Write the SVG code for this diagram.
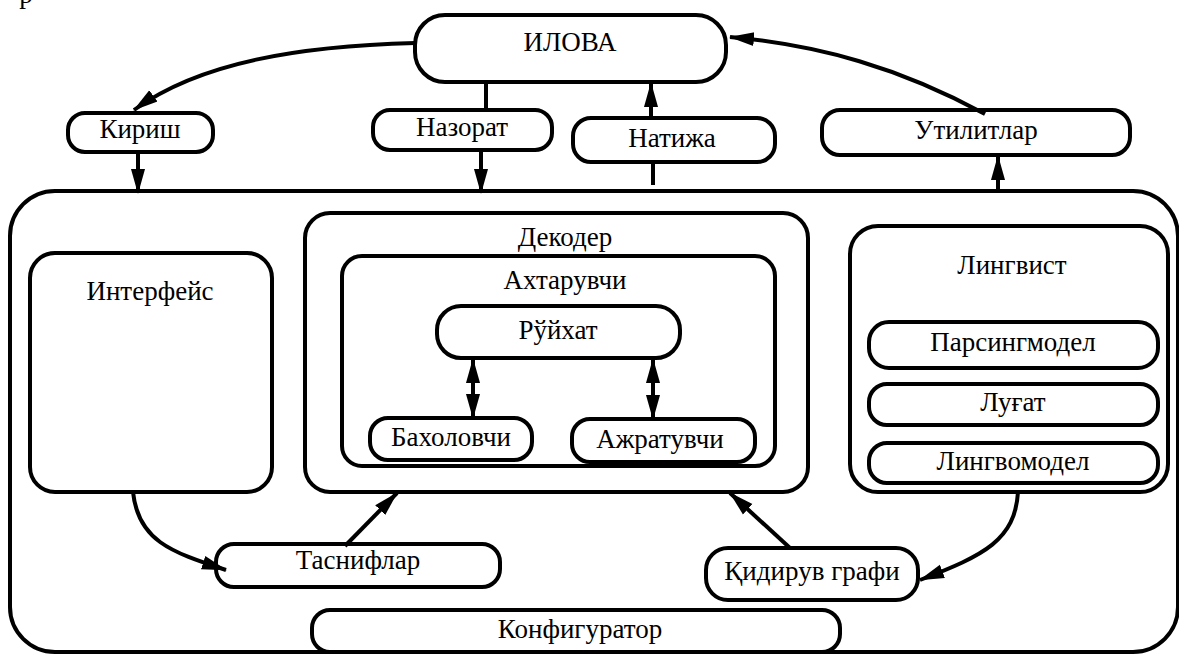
<svg xmlns="http://www.w3.org/2000/svg" width="1179" height="654" viewBox="0 0 1179 654">
  <style>
    .box { fill: none; stroke: #000; stroke-width: 4; }
    .lbl { font-family: "Liberation Serif", "DejaVu Serif", serif; font-size: 27px; text-anchor: middle; fill: #000; }
    .wire { fill: none; stroke: #000; stroke-width: 4; }
    .arr { marker-end: url(#head); }
    .both { marker-start: url(#head); marker-end: url(#head); }
  </style>
  <defs>
    <marker id="head" markerUnits="userSpaceOnUse" markerWidth="26" markerHeight="16" viewBox="0 0 26 16" refX="24" refY="8" orient="auto-start-reverse">
      <path d="M0,1 L25,8 L0,15 Z" fill="#000"/>
    </marker>
  </defs>
  <rect width="1179" height="654" fill="#fff"/>

  <!-- trailing glyph of the preceding line -->
  <text class="lbl" x="26" y="3">р</text>

  <g id="ilova">
    <rect class="box" x="415" y="15" width="311" height="67" rx="30"/>
    <text class="lbl" x="570" y="51">ИЛОВА</text>
  </g>
  <g id="kirish">
    <rect class="box" x="68" y="113" width="145" height="39" rx="17"/>
    <text class="lbl" x="140" y="138">Кириш</text>
  </g>
  <g id="nazorat">
    <rect class="box" x="373" y="110" width="179" height="40" rx="17"/>
    <text class="lbl" x="462" y="136">Назорат</text>
  </g>
  <g id="natija">
    <rect class="box" x="573" y="118" width="202" height="44" rx="18"/>
    <text class="lbl" x="672" y="147">Натижа</text>
  </g>
  <g id="utilitlar">
    <rect class="box" x="822" y="110" width="308" height="45" rx="18"/>
    <text class="lbl" x="976" y="139">Утилитлар</text>
  </g>

  <g id="main">
    <rect class="box" x="10" y="191" width="1168" height="461" rx="45"/>
  </g>
  <g id="interfeys">
    <rect class="box" x="30" y="253" width="242" height="239" rx="25"/>
    <text class="lbl" x="150" y="300">Интерфейс</text>
  </g>
  <g id="dekoder">
    <rect class="box" x="305" y="213" width="503" height="279" rx="25"/>
    <text class="lbl" x="565" y="246">Декодер</text>
  </g>
  <g id="axtaruvchi">
    <rect class="box" x="342" y="256" width="433" height="210" rx="20"/>
    <text class="lbl" x="565" y="289">Ахтарувчи</text>
  </g>
  <g id="ruyxat">
    <rect class="box" x="437" y="306" width="243" height="52" rx="24"/>
    <text class="lbl" x="558" y="339">Рўйхат</text>
  </g>
  <g id="baholovchi">
    <rect class="box" x="370" y="418" width="162" height="42" rx="18"/>
    <text class="lbl" x="451" y="446">Бахоловчи</text>
  </g>
  <g id="ajratuvchi">
    <rect class="box" x="572" y="419" width="183" height="43" rx="18"/>
    <text class="lbl" x="660" y="448">Ажратувчи</text>
  </g>
  <g id="lingvist">
    <rect class="box" x="850" y="226" width="318" height="266" rx="28"/>
    <text class="lbl" x="1012" y="274">Лингвист</text>
  </g>
  <g id="parsingmodel">
    <rect class="box" x="869" y="322" width="289" height="46" rx="20"/>
    <text class="lbl" x="1013" y="351">Парсингмодел</text>
  </g>
  <g id="lugat">
    <rect class="box" x="869" y="384" width="289" height="41" rx="18"/>
    <text class="lbl" x="1013" y="411">Луғат</text>
  </g>
  <g id="lingvomodel">
    <rect class="box" x="869" y="443" width="289" height="40" rx="18"/>
    <text class="lbl" x="1013" y="470">Лингвомодел</text>
  </g>
  <g id="tasniflar">
    <rect class="box" x="216" y="544" width="284" height="43" rx="18"/>
    <text class="lbl" x="358" y="569">Таснифлар</text>
  </g>
  <g id="qidiruv">
    <rect class="box" x="706" y="548" width="212" height="52" rx="22"/>
    <text class="lbl" x="812" y="580">Қидирув графи</text>
  </g>
  <g id="konfigurator">
    <rect class="box" x="312" y="610" width="528" height="42" rx="18"/>
    <text class="lbl" x="580" y="638">Конфигуратор</text>
  </g>

  <g id="connectors">
    <path class="wire arr" d="M415,43 C300,46 200,62 134,110"/>
    <path class="wire arr" d="M138,152 L138,193"/>
    <path class="wire" d="M486,82 L486,110"/>
    <path class="wire arr" d="M481,150 L481,193"/>
    <path class="wire" d="M653,185 L653,162"/>
    <path class="wire arr" d="M651,118 L651,83"/>
    <path class="wire arr" d="M998,191 L998,156"/>
    <path class="wire arr" d="M985,114 C900,68 820,45 730,37"/>
    <path class="wire both" d="M473,359 L473,418"/>
    <path class="wire both" d="M653,359 L653,419"/>
    <path class="wire arr" d="M133,492 C138,540 170,552 226,570"/>
    <path class="wire arr" d="M345,546 L397,493"/>
    <path class="wire arr" d="M790,548 L730,493"/>
    <path class="wire arr" d="M1018,492 C1015,540 985,555 920,580"/>
  </g>
</svg>
